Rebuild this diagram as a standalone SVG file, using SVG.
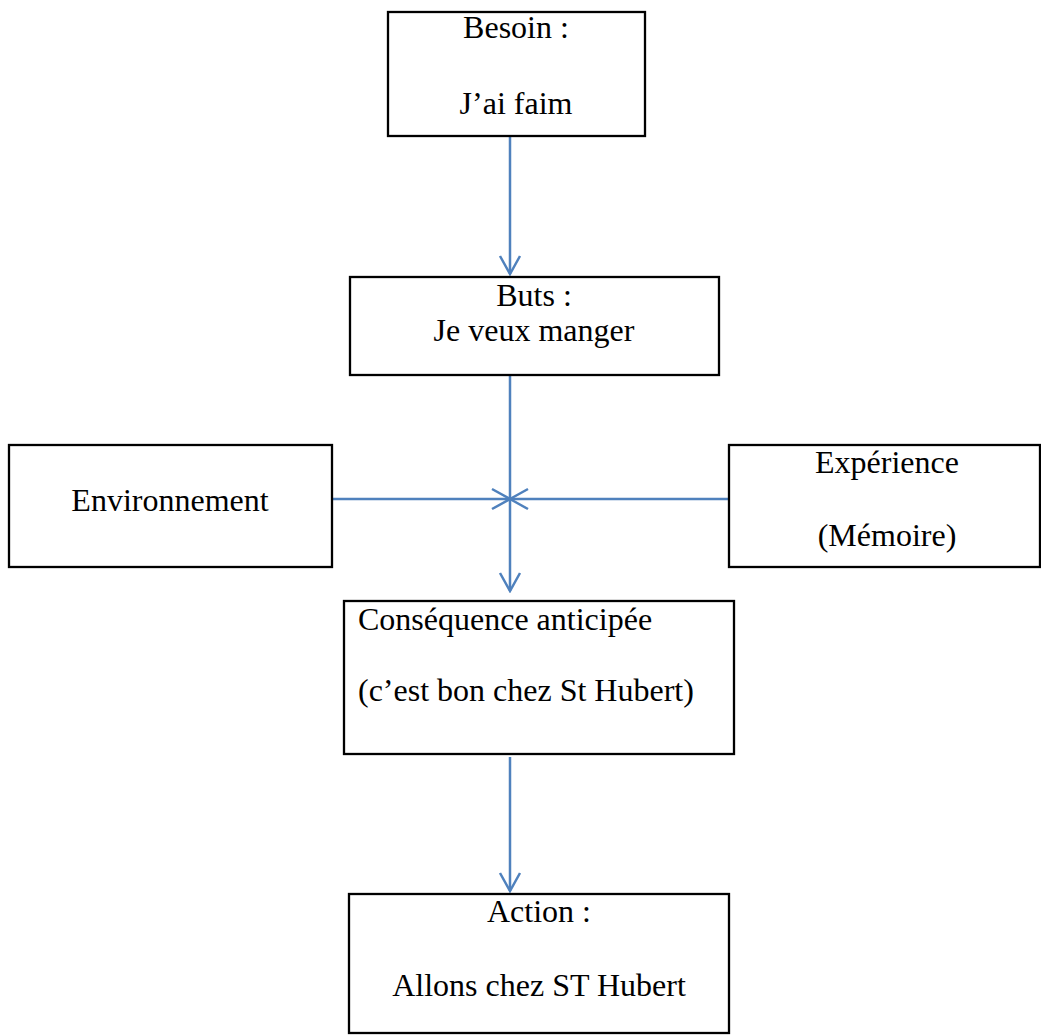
<svg xmlns="http://www.w3.org/2000/svg" width="1041" height="1035" viewBox="0 0 1041 1035">
<style>
.box{fill:#fff;stroke:#000;stroke-width:2.3}
.t{font-family:"Liberation Serif","Times New Roman",serif;font-size:32px;fill:#000}
.c{text-anchor:middle}
.conn{stroke:#4F81BD;stroke-width:2.5;fill:none}
</style>
<defs>
<marker id="ah" markerUnits="userSpaceOnUse" markerWidth="22" markerHeight="24" viewBox="-2 -2 22 24" refX="18" refY="10" orient="auto">
<path d="M0,0 L18,10 L0,20" fill="none" stroke="#4F81BD" stroke-width="2.5"/>
</marker>
</defs>
<rect width="1041" height="1035" fill="#fff"/>
<g id="connectors">
<line class="conn" x1="510" y1="137" x2="510" y2="274" marker-end="url(#ah)"/>
<line class="conn" x1="510" y1="376" x2="510" y2="591" marker-end="url(#ah)"/>
<line class="conn" x1="333" y1="499" x2="510" y2="499" marker-end="url(#ah)"/>
<line class="conn" x1="728" y1="499" x2="510" y2="499" marker-end="url(#ah)"/>
<line class="conn" x1="510" y1="757" x2="510" y2="891" marker-end="url(#ah)"/>
</g>
<g id="besoin">
<rect class="box" x="388" y="12" width="257" height="124"/>
<text class="t c" x="516" y="38">Besoin :</text>
<text class="t c" x="516" y="114">J’ai faim</text>
</g>
<g id="buts">
<rect class="box" x="350" y="277" width="369" height="98"/>
<text class="t c" x="534" y="306">Buts :</text>
<text class="t c" x="534" y="341">Je veux manger</text>
</g>
<g id="environnement">
<rect class="box" x="9" y="445" width="323" height="122"/>
<text class="t c" x="170" y="511">Environnement</text>
</g>
<g id="experience">
<rect class="box" x="729" y="445" width="311" height="122"/>
<text class="t c" x="887" y="473">Expérience</text>
<text class="t c" x="887" y="546">(Mémoire)</text>
</g>
<g id="consequence">
<rect class="box" x="344" y="601" width="390" height="153"/>
<text class="t" x="358" y="630">Conséquence anticipée</text>
<text class="t" x="358" y="701">(c’est bon chez St Hubert)</text>
</g>
<g id="action">
<rect class="box" x="349" y="894" width="380" height="139"/>
<text class="t c" x="539" y="922">Action :</text>
<text class="t c" x="539" y="996">Allons chez ST Hubert</text>
</g>
</svg>
